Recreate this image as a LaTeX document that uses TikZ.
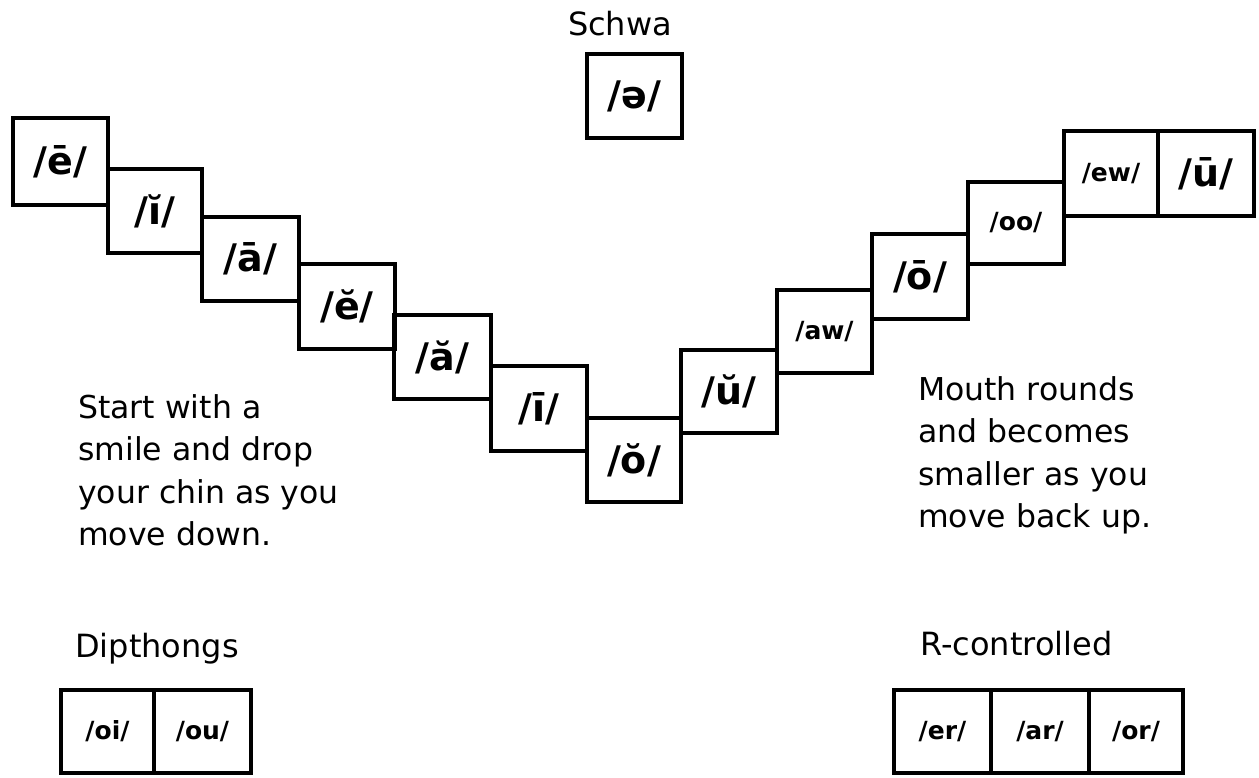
\documentclass[tikz,border=0pt]{standalone}
\usepackage{fontspec}
\setmainfont{DejaVu Sans}
\begin{document}
\begin{tikzpicture}[x=1pt,y=-1pt,
  box/.style={draw, line width=4.5pt, inner sep=0pt},
  big/.style={box, font=\fontsize{38}{40}\selectfont\bfseries},
  small/.style={box, font=\fontsize{25}{27}\selectfont\bfseries},
  txt/.style={font=\fontsize{31.5}{42.5}\selectfont, align=left, inner sep=0pt},
  ttl/.style={font=\fontsize{32}{36}\selectfont, inner sep=0pt}]
\useasboundingbox[fill=white] (0,0) rectangle (1259,777);
% descending chain
\node[big, minimum width=95pt, minimum height=87pt] (eM) at (60.5,161.5) {/ē/};
\node[big, minimum width=94pt, minimum height=84pt] (iB) at (155,211) {/ĭ/};
\node[big, minimum width=97pt, minimum height=84pt] (aM) at (250.5,259) {/ā/};
\node[big, minimum width=96pt, minimum height=85pt] (eB) at (347,306.5) {/ĕ/};
\node[big, minimum width=97pt, minimum height=84pt] (aB) at (442.5,357) {/ă/};
\node[big, minimum width=96pt, minimum height=85pt] (iM) at (539,408.5) {/ī/};
\node[big, minimum width=94pt, minimum height=84pt] (oB) at (634,460) {/ŏ/};
% ascending chain
\node[big, minimum width=96pt, minimum height=83pt] (uB) at (729,391.5) {/ŭ/};
\node[small, minimum width=95pt, minimum height=83pt] (aw) at (824.5,331.5) {/aw/};
\node[big, minimum width=96pt, minimum height=85pt] (oM) at (920,276.5) {/ō/};
\node[small, minimum width=96pt, minimum height=82pt] (oo) at (1016,223) {/oo/};
\node[small, minimum width=94pt, minimum height=85pt] (ew) at (1111,173.5) {/ew/};
\node[big, minimum width=96pt, minimum height=85pt] (uM) at (1206,173.5) {/ū/};
% schwa
\node[ttl, anchor=base] (schwaT) at (620,35) {Schwa};
\node[big, minimum width=95pt, minimum height=84pt] (schwa) at (634.5,96) {/ə/};
% notes
\node[txt, anchor=north west] (left) at (78,394) {Start with a\\smile and drop\\your chin as you\\move down.};
\node[txt, anchor=north west] (right) at (918,376) {Mouth rounds\\and becomes\\smaller as you\\move back up.};
% diphthongs
\node[ttl, anchor=base west] (dipT) at (75,657) {Dipthongs};
\node[small, minimum width=93pt, minimum height=83pt] (oi) at (107.5,731.5) {/oi/};
\node[small, minimum width=97pt, minimum height=83pt] (ou) at (202.5,731.5) {/ou/};
% r-controlled
\node[ttl, anchor=base west] (rT) at (920,655) {R-controlled};
\node[small, minimum width=97pt, minimum height=83pt] (er) at (942.5,731.5) {/er/};
\node[small, minimum width=98pt, minimum height=83pt] (ar) at (1040,731.5) {/ar/};
\node[small, minimum width=94pt, minimum height=83pt] (or) at (1136,731.5) {/or/};
\end{tikzpicture}
\end{document}
